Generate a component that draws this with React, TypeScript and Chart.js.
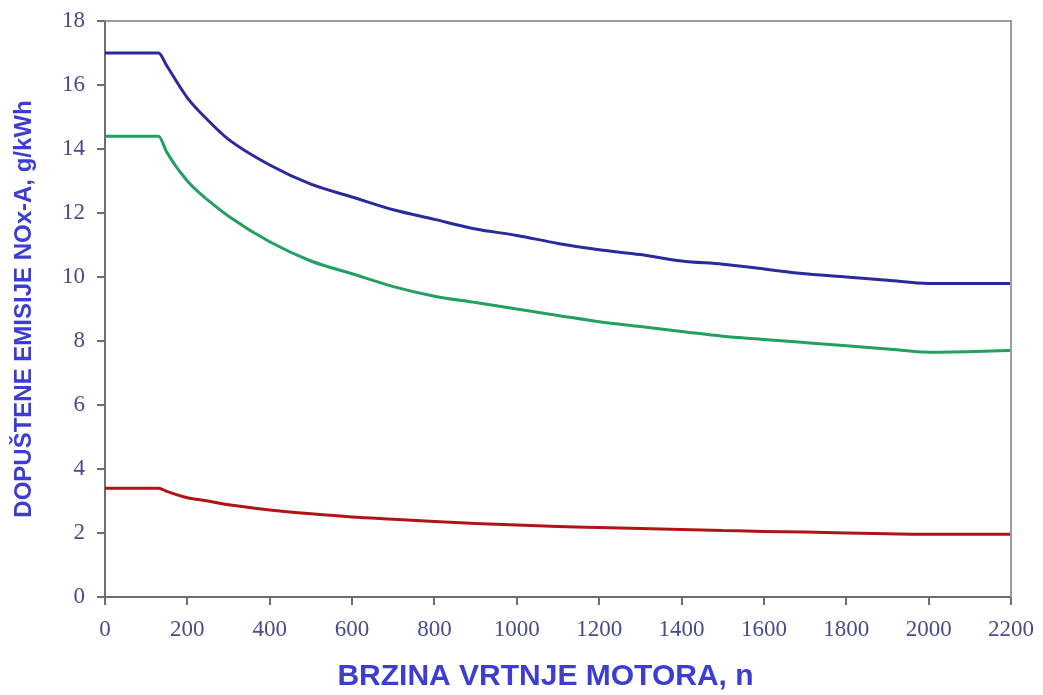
import React, { useEffect, useRef } from "react";
import { Chart, registerables } from "chart.js";

Chart.register(...registerables);

const speeds = [0, 130, 150, 200, 250, 300, 400, 500, 600, 700, 800, 900, 1000, 1100, 1200, 1300, 1400, 1500, 1600, 1700, 1800, 1900, 2000, 2200];
const tierI = [17.0, 17.0, 16.6, 15.6, 14.9, 14.3, 13.5, 12.9, 12.5, 12.1, 11.8, 11.5, 11.3, 11.05, 10.85, 10.7, 10.5, 10.4, 10.25, 10.1, 10.0, 9.9, 9.8, 9.8];
const tierII = [14.4, 14.4, 13.9, 13.0, 12.4, 11.9, 11.1, 10.5, 10.1, 9.7, 9.4, 9.2, 9.0, 8.8, 8.6, 8.45, 8.3, 8.15, 8.05, 7.95, 7.85, 7.75, 7.65, 7.7];
const tierIII = [3.4, 3.4, 3.3, 3.1, 3.0, 2.88, 2.72, 2.6, 2.5, 2.43, 2.36, 2.3, 2.25, 2.2, 2.17, 2.14, 2.11, 2.08, 2.05, 2.03, 2.0, 1.98, 1.96, 1.96];
const xTicks = [0, 200, 400, 600, 800, 1000, 1200, 1400, 1600, 1800, 2000, 2200];
const yTicks = [0, 2, 4, 6, 8, 10, 12, 14, 16, 18];

const seriesNames = ["Tier I", "Tier II", "Tier III"];
const seriesColors = ["#2a2a9c", "#23a060", "#b01515"];

const frame = {
  id: "frame",
  afterDraw(chart: any) {
    const { ctx, chartArea } = chart;
    ctx.save();
    ctx.strokeStyle = "#9c9c9c";
    ctx.lineWidth = 2;
    ctx.beginPath();
    ctx.moveTo(chartArea.left, chartArea.top);
    ctx.lineTo(chartArea.right, chartArea.top);
    ctx.lineTo(chartArea.right, chartArea.bottom);
    ctx.stroke();
    ctx.restore();
  },
};

export default function App() {
  const ref = useRef<HTMLCanvasElement>(null);
  useEffect(() => {
    if (!ref.current) return;
    const toPts = (vals: number[]) => speeds.map((s, i) => ({ x: s, y: vals[i] }));
    const all = [tierI, tierII, tierIII];
    const chart = new Chart(ref.current, {
      type: "line",
      data: {
        datasets: all.map((vals, i) => ({
          label: seriesNames[i],
          data: toPts(vals),
          borderColor: seriesColors[i],
          borderWidth: 3,
          pointRadius: 0,
          cubicInterpolationMode: "monotone" as const,
          fill: false,
        })),
      },
      options: {
        animation: false,
        responsive: false,
        layout: { padding: { left: 0, right: 32, top: 21, bottom: 0 } },
        plugins: { legend: { display: false }, tooltip: { enabled: false } },
        scales: {
          x: {
            type: "linear",
            min: 0,
            max: 2200,
            afterBuildTicks: (s: any) => { s.ticks = xTicks.map((v) => ({ value: v })); },
            afterFit: (s: any) => { s.height = 98; s.paddingLeft = 0; s.paddingRight = 0; },
            border: { display: true, color: "#6e6e6e", width: 2 },
            grid: { drawOnChartArea: false, tickLength: 8, color: "#6e6e6e", lineWidth: 2 },
            ticks: {
              padding: 11,
              color: "#4a4a8e",
              font: { family: "'Liberation Serif', serif", size: 23 },
              maxRotation: 0,
              autoSkip: false,
              callback: (v: any) => String(v),
            },
            title: {
              display: true,
              text: "BRZINA VRTNJE MOTORA, n   ",
              color: "#3d3dd2",
              font: { family: "'Liberation Sans', Arial, sans-serif", size: 30, weight: "bold" },
              padding: { top: 0, bottom: 0 },
            },
          },
          y: {
            min: 0,
            max: 18,
            afterBuildTicks: (s: any) => { s.ticks = yTicks.map((v) => ({ value: v })); },
            afterFit: (s: any) => { s.width = 105; s.paddingTop = 0; s.paddingBottom = 0; },
            border: { display: true, color: "#6e6e6e", width: 2 },
            grid: { drawOnChartArea: false, tickLength: 8, color: "#6e6e6e", lineWidth: 2 },
            ticks: {
              padding: 12,
              color: "#4a4a8e",
              font: { family: "'Liberation Serif', serif", size: 23 },
              autoSkip: false,
              callback: (v: any) => String(v),
            },
            title: {
              display: true,
              text: "DOPUŠTENE EMISIJE NOx-A, g/kWh",
              color: "#3d3dd2",
              font: { family: "'Liberation Sans', Arial, sans-serif", size: 24, weight: "bold" },
              padding: { top: 10, bottom: 0 },
            },
          },
        },
      },
      plugins: [frame],
    } as any);
    return () => chart.destroy();
  }, []);
  return (
    <div style={{ position: "absolute", left: 0, top: 0, width: 1043, height: 695, background: "#fff" }}>
      <canvas ref={ref} width={1043} height={695} style={{ display: "block" }} />
    </div>
  );
}
